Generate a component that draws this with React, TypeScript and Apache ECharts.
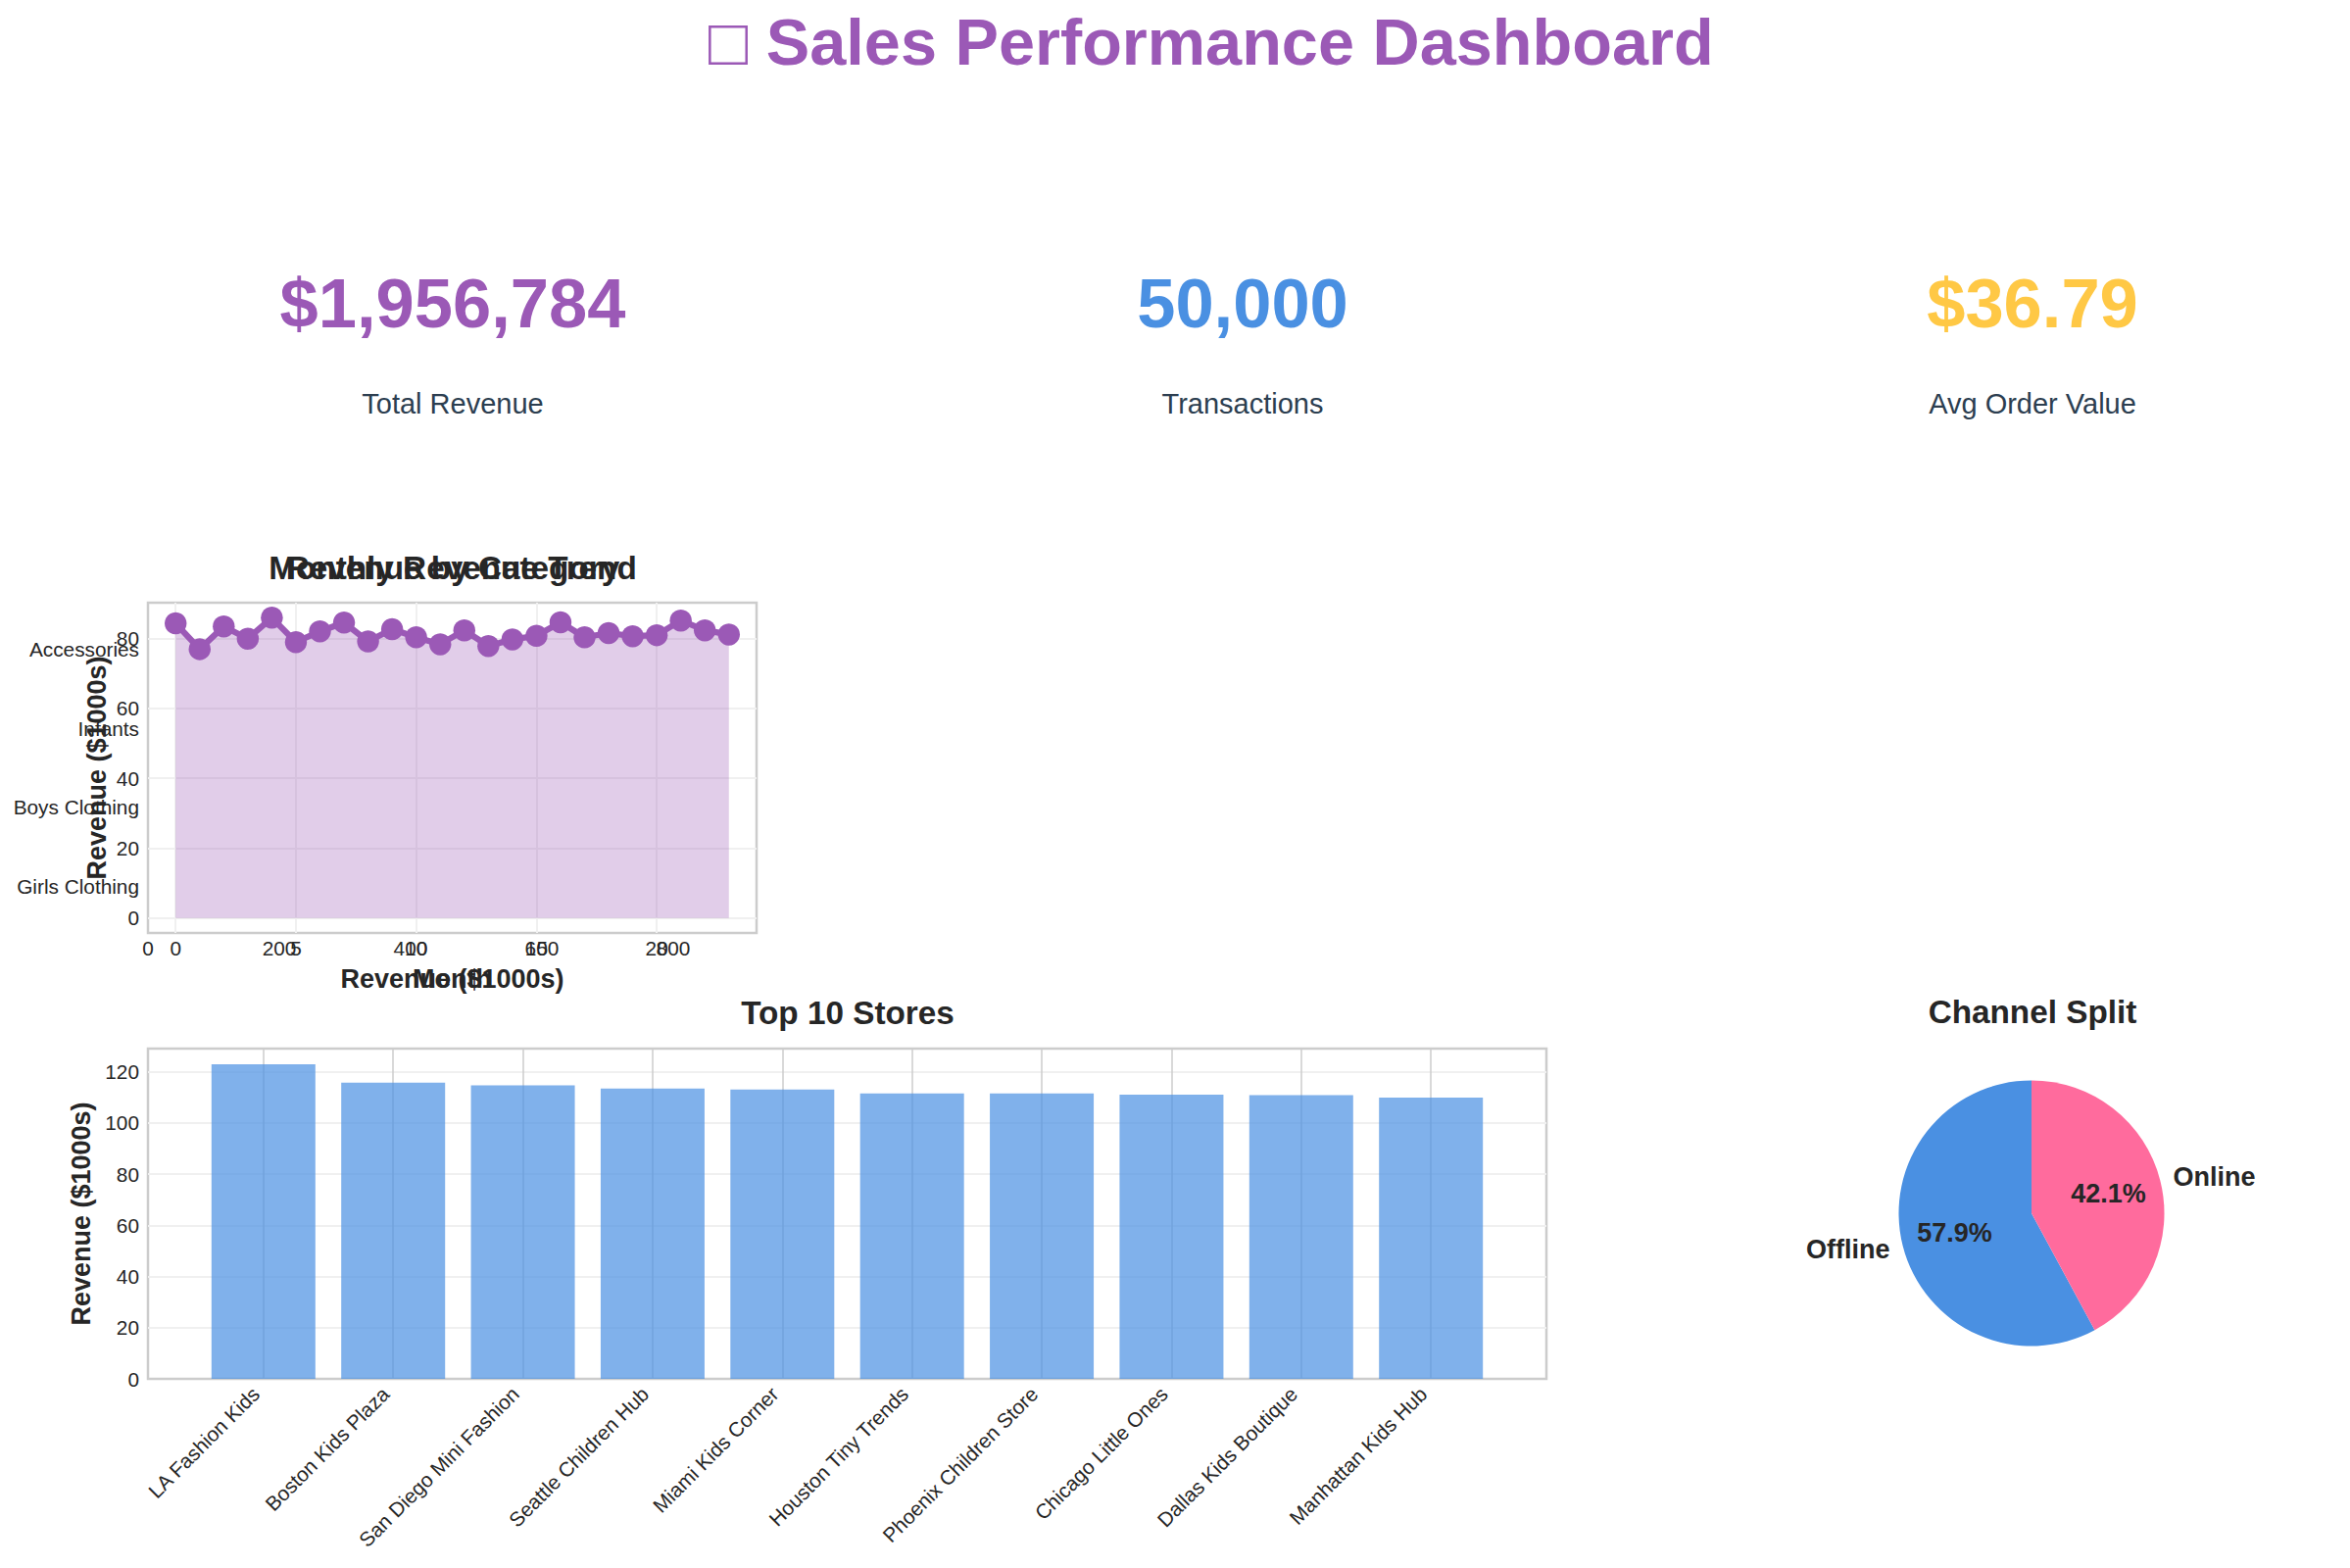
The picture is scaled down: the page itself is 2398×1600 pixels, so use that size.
import React, { useEffect, useRef } from "react";
import * as echarts from "echarts";

const FONT = '"Liberation Sans", Arial, sans-serif';
const INK = "#262626";
const PURPLE = "#9B59B6";
const BLUE = "#4A90E2";
const YELLOW = "#FFC845";
const PINK = "#FF6B9D";
const SLATE = "#2C3E50";

const mainTitle = "□ Sales Performance Dashboard";
const kpiValues = ["$1,956,784", "50,000", "$36.79"];
const kpiLabels = ["Total Revenue", "Transactions", "Avg Order Value"];
const kpiColors = [PURPLE, BLUE, YELLOW];
const kpiCentres = [462, 1268, 2074];

const monthTicks = [0, 5, 10, 15, 20];
const trendTicks = [0, 20, 40, 60, 80];
const categoryRevenueTicks = [0, 200, 400, 600, 800];
const monthlyRevenue = [
  84.4, 77.0, 83.5, 80.0, 86.0, 79.0, 82.1, 84.6, 79.2, 82.7, 80.4, 78.4,
  82.4, 77.9, 79.8, 80.8, 84.7, 80.4, 81.6, 80.7, 81.0, 85.2, 82.4, 81.2,
];
const categories = ["Girls Clothing", "Boys Clothing", "Infants", "Accessories"];
const categoryTicks = [0, 1, 2, 3];
const stores = [
  "LA Fashion Kids", "Boston Kids Plaza", "San Diego Mini Fashion", "Seattle Children Hub",
  "Miami Kids Corner", "Houston Tiny Trends", "Phoenix Children Store", "Chicago Little Ones",
  "Dallas Kids Boutique", "Manhattan Kids Hub",
];
const storeTicks = [0, 1, 2, 3, 4, 5, 6, 7, 8, 9];
const storeRevenueTicks = [0, 20, 40, 60, 80, 100, 120];
const storeRevenue = [122.9, 115.7, 114.6, 113.4, 113.0, 111.5, 111.5, 111.0, 110.8, 109.9];
const channelNames = ["Offline", "Online"];
const channelShares = [57.9, 42.1];
const channelColors = [BLUE, PINK];

const TICK = { fontFamily: FONT, fontSize: 20.8, color: INK };
const NAME = { fontFamily: FONT, fontSize: 27, fontWeight: "bold" as const, color: INK };
const SOFT = { show: true, lineStyle: { color: "#f0f0f0", width: 2 } };
const HARD = { show: true, lineStyle: { color: "#cccccc", width: 1.5 } };

function baseAxis(extra: any) {
  return {
    type: "value",
    axisLine: { show: false },
    axisTick: { show: false },
    splitLine: { show: false },
    ...extra,
  };
}
const plain = (v: number) => String(Math.round(v));
const named = (names: string[]) => (v: number) => names[Math.round(v)] ?? "";

function chartTitle(text: string, x: number, y: number) {
  return {
    text, left: x, top: y, padding: 0,
    textAlign: "center", textVerticalAlign: "middle",
    textStyle: { fontFamily: FONT, fontSize: 33.3, fontWeight: "bold", color: INK },
  };
}

function buildOption(): any {
  const kpis: any[] = [];
  kpiValues.forEach((v, i) => {
    kpis.push({
      type: "text", x: kpiCentres[i], y: 309,
      style: { text: v, fontFamily: FONT, fontSize: 70.5, fontWeight: "bold", fill: kpiColors[i], align: "center", verticalAlign: "middle" },
    });
    kpis.push({
      type: "text", x: kpiCentres[i], y: 412,
      style: { text: kpiLabels[i], fontFamily: FONT, fontSize: 29, fill: SLATE, align: "center", verticalAlign: "middle" },
    });
  });

  return {
    animation: false,
    backgroundColor: "#ffffff",
    title: [
      {
        text: mainTitle, left: 723, top: 43, padding: 0,
        textAlign: "left", textVerticalAlign: "middle",
        textStyle: { fontFamily: FONT, fontSize: 66.67, fontWeight: "bold", color: PURPLE },
      },
      chartTitle("Revenue by Category", 462, 579),
      chartTitle("Monthly Revenue Trend", 462, 579),
      chartTitle("Top 10 Stores", 865, 1033),
      chartTitle("Channel Split", 2074, 1032),
    ],
    graphic: kpis,
    grid: [
      { left: 151, top: 615, width: 621, height: 337, show: true, borderColor: "#cccccc", borderWidth: 2.5, backgroundColor: "#fff" },
      { left: 151, top: 1070, width: 1427, height: 337, show: true, borderColor: "#cccccc", borderWidth: 2.5, backgroundColor: "#fff" },
    ],
    xAxis: [
      baseAxis({
        gridIndex: 0, min: -1.15, max: 24.15, position: "bottom",
        axisTick: { show: false, customValues: monthTicks },
        splitLine: SOFT,
        axisLabel: { ...TICK, margin: 5, customValues: monthTicks, formatter: plain },
        name: "Month", nameLocation: "middle", nameGap: 33, nameTextStyle: NAME,
      }),
      baseAxis({
        gridIndex: 0, min: 0, max: 927, position: "bottom",
        axisTick: { show: false, customValues: categoryRevenueTicks },
        axisLabel: { ...TICK, margin: 5, customValues: categoryRevenueTicks, formatter: plain },
        name: "Revenue ($1000s)", nameLocation: "middle", nameGap: 33, nameTextStyle: NAME,
      }),
      baseAxis({
        gridIndex: 1, min: -0.89, max: 9.89, position: "bottom",
        axisTick: { show: false, customValues: storeTicks },
        splitLine: HARD,
        axisLabel: { ...TICK, margin: 4, rotate: 45, padding: [0, 11, 0, 0], customValues: storeTicks, formatter: named(stores) },
      }),
    ],
    yAxis: [
      baseAxis({
        gridIndex: 0, min: -4.3, max: 90.3, position: "left",
        axisTick: { show: false, customValues: trendTicks },
        splitLine: SOFT,
        axisLabel: { ...TICK, margin: 9, customValues: trendTicks, formatter: plain },
        name: "Revenue ($1000s)", nameLocation: "middle", nameGap: 39, nameTextStyle: NAME,
      }),
      baseAxis({
        gridIndex: 0, min: -0.59, max: 3.59, position: "left",
        axisTick: { show: false, customValues: categoryTicks },
        axisLabel: { ...TICK, margin: 9, customValues: categoryTicks, formatter: named(categories) },
      }),
      baseAxis({
        gridIndex: 1, min: 0, max: 129, position: "left",
        axisTick: { show: false, customValues: storeRevenueTicks },
        splitLine: { ...SOFT, showMinLine: false },
        axisLabel: { ...TICK, margin: 9, customValues: storeRevenueTicks, formatter: plain },
        name: "Revenue ($1000s)", nameLocation: "middle", nameGap: 46, nameTextStyle: NAME,
      }),
    ],
    series: [
      {
        type: "line", xAxisIndex: 0, yAxisIndex: 0,
        data: monthlyRevenue.map((v, i) => [i, v]),
        symbol: "circle", symbolSize: 22.5, showSymbol: true,
        lineStyle: { color: PURPLE, width: 6.25 },
        itemStyle: { color: PURPLE },
        areaStyle: { color: PURPLE, opacity: 0.3 },
      },
      {
        type: "bar", xAxisIndex: 2, yAxisIndex: 2,
        data: storeRevenue.map((v, i) => [i, v]),
        barWidth: 106,
        itemStyle: { color: BLUE, opacity: 0.7 },
      },
      {
        type: "pie", center: [2073, 1238], radius: [0, 135.5],
        startAngle: 90, clockwise: false, avoidLabelOverlap: false,
        data: channelNames.map((name, i) => ({ name, value: channelShares[i], itemStyle: { color: channelColors[i] } })),
        label: { position: "outside", formatter: "{b}", fontFamily: FONT, fontSize: 27, fontWeight: "bold", color: INK, distanceToLabelLine: 0 },
        labelLine: { show: false, length: 13.5, length2: 0 },
      },
      {
        type: "pie", center: [2073, 1238], radius: [0, 156],
        startAngle: 90, clockwise: false, avoidLabelOverlap: false, silent: true,
        data: channelNames.map((name, i) => ({ name, value: channelShares[i], itemStyle: { color: "transparent" } })),
        label: { position: "inside", formatter: (p: any) => `${p.value.toFixed(1)}%`, fontFamily: FONT, fontSize: 27, fontWeight: "bold", color: INK },
        labelLine: { show: false },
      },
    ],
  };
}

export default function App() {
  const ref = useRef<HTMLDivElement>(null);
  useEffect(() => {
    document.body.style.margin = "0";
    const chart = echarts.init(ref.current!, undefined, { renderer: "svg" });
    chart.setOption(buildOption());
    return () => chart.dispose();
  }, []);
  return <div ref={ref} style={{ width: 2398, height: 1600 }} />;
}
